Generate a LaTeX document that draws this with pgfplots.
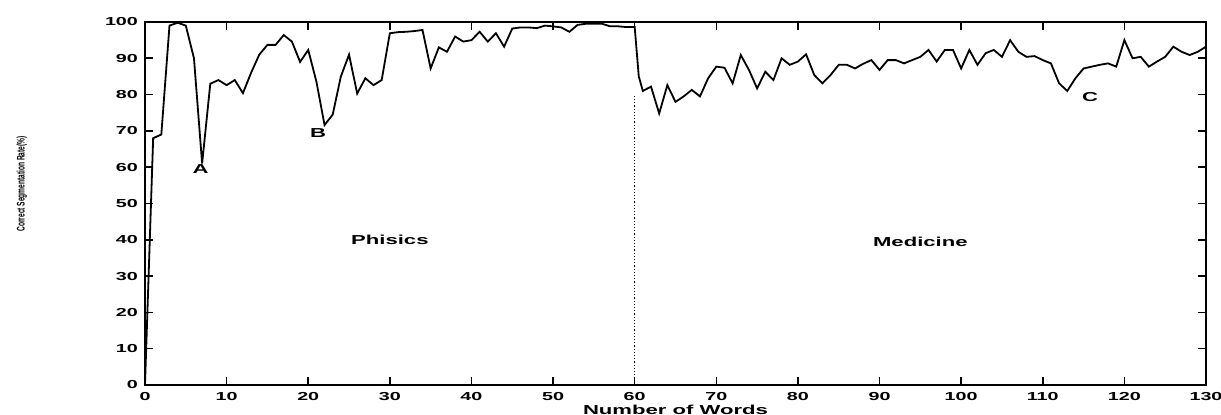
\documentclass[border=0pt]{standalone}
\usepackage{fontspec}
\setmainfont{Liberation Sans}
\newfontfamily\wide[FakeStretch=1.7]{Liberation Sans}
\newfontfamily\narrow[FakeStretch=0.6]{Liberation Sans}
\usepackage{pgfplots}
\pgfplotsset{compat=1.18}
\begin{document}
\begin{tikzpicture}
\begin{axis}[
    name=ax,
    scale only axis,
    width=530.5pt, height=181.5pt,
    xmin=0, xmax=130, ymin=0, ymax=100,
    xtick={0,10,...,130}, ytick={0,10,...,100},
    tick align=inside,
    major tick length=4pt,
    axis line style={line width=1pt},
    tick style={line width=0.8pt, black},
    /pgf/number format/assume math mode=true,
    ticklabel style={font=\wide\bfseries\fontsize{5.8}{6}\selectfont},
    xlabel={Number of Words},
    xlabel style={font=\wide\bfseries\fontsize{6.5}{7}\selectfont,
        at={(axis description cs:0.5,0)}, anchor=center, yshift=-12.5pt},
    ylabel={Correct Segmentation Rate(\%)},
    ylabel style={font=\narrow\bfseries\fontsize{5.5}{6}\selectfont,
        at={(axis description cs:-0.116,0.554)}, anchor=center},
    clip=false,
]
% correct segmentation rate
\addplot[black, line width=0.9pt] coordinates {
(0,0) (1,68) (2,69) (3,99) (4,99.8) (5,99) (6,90) (7,61) (8,83) (9,84) (10,82.6)
(11,84) (12,80.4) (13,86) (14,91) (15,93.7) (16,93.7) (17,96.4) (18,94.6) (19,89) (20,92.3)
(21,83.6) (22,71.6) (23,74.5) (24,85) (25,91) (26,80.3) (27,84.5) (28,82.6) (29,84) (30,96.9)
(31,97.2) (32,97.3) (33,97.5) (34,97.8) (35,87.2) (36,93) (37,91.8) (38,96) (39,94.6) (40,95)
(41,97.3) (42,94.6) (43,96.9) (44,93.2) (45,98.2) (46,98.5) (47,98.5) (48,98.3) (49,99) (50,98.8)
(51,98.5) (52,97.3) (53,99.2) (54,99.5) (55,99.5) (56,99.5) (57,98.8) (58,98.8) (59,98.6) (60,98.6)
(60.5,85) (61,81) (62,82.2) (63,74.8) (64,82.6) (65,78) (66,79.5) (67,81.3) (68,79.5) (69,84.5) (70,87.7)
(71,87.4) (72,83.1) (73,90.9) (74,86.8) (75,81.7) (76,86.3) (77,84) (78,90) (79,88.2) (80,89.1)
(81,91.1) (82,85.4) (83,83.1) (84,85.4) (85,88.2) (86,88.2) (87,87.2) (88,88.5) (89,89.5) (90,86.8)
(91,89.5) (92,89.5) (93,88.6) (94,89.5) (95,90.4) (96,92.3) (97,89.1) (98,92.3) (99,92.3) (100,87.2)
(101,92.3) (102,88.2) (103,91.4) (104,92.3) (105,90.4) (106,95) (107,91.8) (108,90.4) (109,90.6) (110,89.5)
(111,88.6) (112,83.1) (113,81) (114,84.5) (115,87.2) (116,87.7) (117,88.2) (118,88.6) (119,87.7) (120,95)
(121,90) (122,90.4) (123,87.7) (124,89.1) (125,90.4) (126,93.2) (127,91.8) (128,90.9) (129,91.8) (130,93.2)
};
% boundary between the two domains
\addplot[black, densely dotted, line width=0.6pt] coordinates {(60,0) (60,80)};
\node[font=\wide\bfseries\fontsize{6.5}{7}\selectfont] at (axis cs:6.8,59.5) {A};
\node[font=\wide\bfseries\fontsize{6.5}{7}\selectfont] at (axis cs:21.2,69.5) {B};
\node[font=\wide\bfseries\fontsize{6.5}{7}\selectfont] at (axis cs:115.8,79.3) {C};
\node[font=\wide\bfseries\fontsize{6.5}{7}\selectfont] at (axis cs:30,40) {Phisics};
\node[font=\wide\bfseries\fontsize{6.5}{7}\selectfont] at (axis cs:95,39.5) {Medicine};
\end{axis}
\pgfresetboundingbox
\path ([shift={(-72.5pt,-15pt)}]ax.south west) rectangle ([shift={(7.5pt,11pt)}]ax.north east);
\end{tikzpicture}
\end{document}
